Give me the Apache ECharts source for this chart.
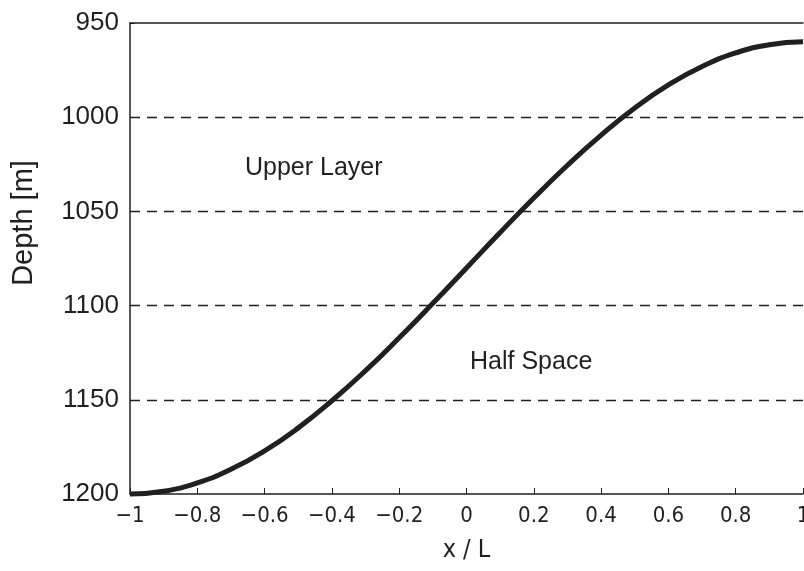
<!DOCTYPE html>
<html>
<head>
<meta charset="utf-8">
<script src="https://cdn.jsdelivr.net/npm/echarts@6/dist/echarts.min.js"></script>
<style>
html,body{margin:0;padding:0;background:#fff;}
#chart{width:804px;height:571px;}
</style>
</head>
<body>
<div id="chart"></div>
<script>
// x / L positions and depth values (m)
var xValues = [-1, -0.9, -0.8, -0.7, -0.6, -0.5, -0.4, -0.3, -0.2, -0.1, 0, 0.1, 0.2, 0.3, 0.4, 0.5, 0.6, 0.7, 0.8, 0.9, 1];
var depthValues = [1200, 1198.5, 1194.1, 1186.9, 1177.1, 1164.9, 1150.5, 1134.5, 1117.1, 1098.8, 1080, 1061.2, 1042.9, 1025.5, 1009.5, 995.1, 982.9, 973.1, 965.9, 961.5, 960];
var layerLabels = ['Upper Layer', 'Half Space'];
var yAxisTitle = 'Depth [m]';
var xAxisTitle = 'x / L';

var ink = '#231f20';
var narrow = '"Liberation Sans Narrow", "DejaVu Sans Condensed", "Arial Narrow", sans-serif';
var sans = '"Liberation Sans", Arial, Helvetica, sans-serif';

var chart = echarts.init(document.getElementById('chart'), null, {renderer: 'canvas'});
var pts = xValues.map(function (x, i) { return [x, depthValues[i]]; });

chart.setOption({
  animation: false,
  backgroundColor: '#ffffff',
  grid: {left: 130, right: 1, top: 23, bottom: 77, containLabel: false, outerBoundsMode: 'none'},
  xAxis: [{
    type: 'value', min: -1, max: 1, interval: 0.2,
    position: 'bottom',
    name: xAxisTitle, nameLocation: 'middle', nameGap: 44,
    nameTextStyle: {fontFamily: narrow, fontSize: 25, color: ink},
    axisLine: {show: true, onZero: false, lineStyle: {color: ink, width: 1.5}},
    axisTick: {show: true, inside: true, length: 6, lineStyle: {color: ink, width: 1}},
    axisLabel: {
      fontFamily: narrow, fontSize: 22, color: ink, margin: 11, hideOverlap: false,
      formatter: function (v) { var s = String(Math.round(v * 10) / 10); return s.replace('-', '\u2212'); }
    },
    splitLine: {show: false}
  }, {
    type: 'value', min: -1, max: 1, position: 'top',
    axisLine: {show: true, onZero: false, lineStyle: {color: ink, width: 1.5}},
    axisTick: {show: false}, axisLabel: {show: false}, splitLine: {show: false}
  }],
  yAxis: {
    type: 'value', min: 950, max: 1200, interval: 50, inverse: true,
    axisLine: {show: true, onZero: false, lineStyle: {color: ink, width: 1.5}},
    axisTick: {show: true, inside: true, length: 5, lineStyle: {color: ink, width: 1}},
    axisLabel: {fontFamily: sans, fontSize: 26, color: ink, margin: 11,
      formatter: function (v) { return String(v); }},
    splitLine: {show: true, showMinLine: false, showMaxLine: false,
      lineStyle: {color: ink, width: 1.3, type: [10, 7]}}
  },
  graphic: [{
    type: 'text', left: 245, top: 156,
    style: {text: layerLabels[0], fontFamily: sans, fontSize: 25, fill: ink}
  }, {
    type: 'text', left: 470, top: 350,
    style: {text: layerLabels[1], fontFamily: sans, fontSize: 25, fill: ink}
  }, {
    type: 'text', x: 24, y: 223, rotation: Math.PI / 2,
    style: {text: yAxisTitle, fontFamily: sans, fontSize: 29, fill: ink, align: 'center', verticalAlign: 'middle'}
  }],
  series: [{
    type: 'line', data: pts, smooth: true, showSymbol: false, symbol: 'none',
    lineStyle: {color: ink, width: 5}, clip: false
  }]
});
</script>
</body>
</html>
